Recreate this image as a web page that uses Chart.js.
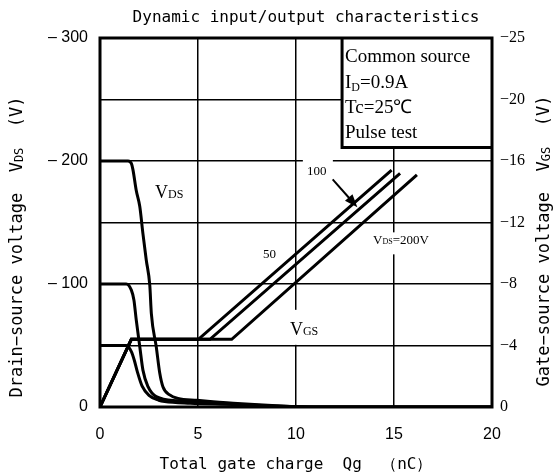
<!DOCTYPE html>
<html>
<head>
<meta charset="utf-8">
<script src="https://cdn.jsdelivr.net/npm/chart.js@4.4.1/dist/chart.umd.min.js"></script>
<style>
  body { margin: 0; background: #fff; }
  canvas { display: block; }
</style>
</head>
<body>
<canvas id="graficoQg" width="560" height="476"></canvas>
<script>
// Total gate charge Qg (nC) on x, |VDS| on the left axis, |VGS| on the right axis
const qTicks = [0, 5, 10, 15, 20];
const vdsTickValues = [0, 100, 200, 300];
const vdsTickLabels = ['0', '– 100', '– 200', '– 300'];
const vgsTickValues = [0, 4, 8, 12, 16, 20, 24];
const vgsTickLabels = ['0', '−4', '−8', '−12', '−16', '−20', '−25'];

// VDS curves (V)
const qVds200 = [0, 1.43, 1.6, 1.68, 1.85, 2.03, 2.19, 2.36, 2.54, 2.62, 2.87, 3.05, 3.21, 3.56, 3.98, 4.95, 6.8, 9.0, 11, 20];
const vds200 = [200, 200, 198, 193, 176, 163, 141, 119.5, 99, 76, 49, 27.4, 16.5, 9.8, 7, 5.5, 3, 1, 0, 0];
const qVds100 = [0, 1.34, 1.6, 1.73, 1.85, 2.03, 2.19, 2.45, 2.87, 3.98, 4.95, 6.8, 9.0, 11, 20];
const vds100 = [100, 100, 95, 87, 70.7, 49, 30, 16.5, 8.4, 5.1, 4.5, 2.5, 0.8, 0, 0];
const qVds50 = [0, 1.35, 1.6, 1.75, 1.9, 2.15, 2.5, 3.0, 3.3, 4.6, 6.8, 9.0, 11, 20];
const vds50 = [50, 50, 45, 38, 29, 17, 9.5, 5.5, 4.4, 3, 2, 0.5, 0, 0];

// VGS curves (V), one per VDS
const qVgs50 = [0, 1.6, 5.02, 14.88];
const vgs50 = [0, 4.4, 4.4, 15.4];
const qVgs100 = [0, 1.6, 5.61, 15.31];
const vgs100 = [0, 4.4, 4.4, 15.2];
const qVgs200 = [0, 1.6, 6.72, 16.17];
const vgs200 = [0, 4.4, 4.4, 15.1];

const serif = '"Liberation Serif", "Times New Roman", serif';
const gothic = '"DejaVu Sans Mono", monospace';
const sans = '"Liberation Sans", Arial, sans-serif';

const toPoints = (qs, vs) => qs.map((q, i) => ({ x: q, y: vs[i] }));

function curve(qs, vs, axis, smooth) {
    return {
        data: toPoints(qs, vs),
        yAxisID: axis,
        showLine: true,
        borderColor: '#000',
        borderWidth: 3,
        pointRadius: 0,
        fill: false,
        tension: 0,
        cubicInterpolationMode: smooth ? 'monotone' : 'default'
    };
}

// text with smaller subscript runs: [text, font, dy]
function runsWidth(ctx, runs) {
    let w = 0;
    for (const [t, f] of runs) { ctx.font = f; w += ctx.measureText(t).width; }
    return w;
}
function drawRuns(ctx, runs, x, y) {
    let cx = x;
    for (const [t, f, dy] of runs) {
        ctx.font = f;
        ctx.fillText(t, cx, y + (dy || 0));
        cx += ctx.measureText(t).width;
    }
}

const extras = {
    id: 'extras',
    beforeDatasetsDraw(chart) {
        const { ctx, chartArea: a, scales: { x, y } } = chart;
        ctx.save();
        ctx.fillStyle = '#fff';
        // gaps in the grid behind the labels
        ctx.fillRect(x.getPixelForValue(10.35), y.getPixelForValue(203), 30, 22);
        ctx.fillRect(x.getPixelForValue(13.78), y.getPixelForValue(142), 60, 22);
        ctx.fillRect(x.getPixelForValue(9.49), y.getPixelForValue(79), 38, 35);
        // conditions box
        const bx = x.getPixelForValue(12.35), by = y.getPixelForValue(211);
        ctx.fillRect(bx, a.top, a.right - bx, by - a.top);
        ctx.strokeStyle = '#000';
        ctx.lineWidth = 3;
        ctx.beginPath();
        ctx.moveTo(bx, a.top);
        ctx.lineTo(bx, by);
        ctx.lineTo(a.right, by);
        ctx.stroke();
        ctx.fillStyle = '#000';
        ctx.textBaseline = 'alphabetic';
        const tx = x.getPixelForValue(12.5);
        const big = '19px ' + serif, small = '12px ' + serif;
        drawRuns(ctx, [['Common source', big]], tx, a.top + 24);
        drawRuns(ctx, [['I', big], ['D', small, 3], ['=0.9A', big]], tx, a.top + 49.5);
        drawRuns(ctx, [['Tc=25℃', big]], tx, a.top + 75);
        drawRuns(ctx, [['Pulse test', big]], tx, a.top + 99.5);
        ctx.restore();
    },
    afterDatasetsDraw(chart) {
        const { ctx, chartArea: a, scales: { x, y } } = chart;
        ctx.save();
        ctx.fillStyle = '#000';
        ctx.textBaseline = 'alphabetic';
        const f18 = '18px ' + serif, f12 = '12px ' + serif, f13 = '13px ' + serif, f8 = '8px ' + serif;
        drawRuns(ctx, [['V', f18], ['DS', f12]], x.getPixelForValue(2.81), y.getPixelForValue(169.9));
        drawRuns(ctx, [['V', f18], ['GS', f12]], x.getPixelForValue(9.69), y.getPixelForValue(58.5));
        drawRuns(ctx, [['50', f13]], x.getPixelForValue(8.32), y.getPixelForValue(121.1));
        drawRuns(ctx, [['100', f13]], x.getPixelForValue(10.56), y.getPixelForValue(188.6));
        drawRuns(ctx, [['V', f13], ['DS', f8], ['=200V', f13]], x.getPixelForValue(13.93), y.getPixelForValue(132.5));

        // arrow to the 100 V line
        const x0 = x.getPixelForValue(11.87), y0 = y.getPixelForValue(185.1);
        const x1 = x.getPixelForValue(13.13), y1 = y.getPixelForValue(162.4);
        const ang = Math.atan2(y1 - y0, x1 - x0);
        ctx.strokeStyle = '#000';
        ctx.lineWidth = 2;
        ctx.beginPath();
        ctx.moveTo(x0, y0);
        ctx.lineTo(x1 - 8 * Math.cos(ang), y1 - 8 * Math.sin(ang));
        ctx.stroke();
        ctx.beginPath();
        ctx.moveTo(x1, y1);
        ctx.lineTo(x1 - 13 * Math.cos(ang) + 5 * Math.sin(ang), y1 - 13 * Math.sin(ang) - 5 * Math.cos(ang));
        ctx.lineTo(x1 - 13 * Math.cos(ang) - 5 * Math.sin(ang), y1 - 13 * Math.sin(ang) + 5 * Math.cos(ang));
        ctx.closePath();
        ctx.fill();

        // plot frame
        ctx.lineWidth = 3;
        ctx.strokeRect(a.left, a.top, a.right - a.left, a.bottom - a.top);
        ctx.restore();
    },
    afterDraw(chart) {
        const { ctx } = chart;
        ctx.save();
        ctx.fillStyle = '#000';
        ctx.textBaseline = 'middle';
        const g = '16px ' + gothic;
        const gv = '17px ' + gothic, gvs = '12px ' + gothic;

        ctx.font = g;
        ctx.textAlign = 'center';
        ctx.fillText('Dynamic input/output characteristics', 306, 18);
        ctx.textAlign = 'left';

        const xTitle = [['Total gate charge  Qg  （nC）', g]];
        drawRuns(ctx, xTitle, 296 - runsWidth(ctx, xTitle) / 2, 465);

        const left = [['Drain−source voltage  V', gv], ['DS', gvs, 2], ['  (V)', gv]];
        ctx.translate(18, 247);
        ctx.rotate(-Math.PI / 2);
        drawRuns(ctx, left, -runsWidth(ctx, left) / 2, 0);
        ctx.setTransform(1, 0, 0, 1, 0, 0);

        const right = [['Gate−source voltage  V', gv], ['GS', gvs, 2], ['  (V)', gv]];
        ctx.translate(545, 241);
        ctx.rotate(-Math.PI / 2);
        drawRuns(ctx, right, -runsWidth(ctx, right) / 2, 0);
        ctx.restore();
    }
};

const config = {
    type: 'scatter',
    data: {
        datasets: [
            curve(qVds200, vds200, 'y', true),
            curve(qVds100, vds100, 'y', true),
            curve(qVds50, vds50, 'y', true),
            curve(qVgs50, vgs50, 'y2', false),
            curve(qVgs100, vgs100, 'y2', false),
            curve(qVgs200, vgs200, 'y2', false)
        ]
    },
    options: {
        responsive: false,
        devicePixelRatio: 1,
        animation: false,
        layout: { padding: { top: 38, left: 0, right: 0, bottom: 0 } },
        plugins: { legend: { display: false }, tooltip: { enabled: false } },
        scales: {
            x: {
                type: 'linear',
                min: qTicks[0],
                max: qTicks[qTicks.length - 1],
                afterFit(scale) { scale.height = 69; },
                afterBuildTicks(scale) { scale.ticks = qTicks.map(v => ({ value: v })); },
                grid: { color: '#000', lineWidth: 1.5, drawTicks: false },
                border: { display: false },
                ticks: { color: '#000', padding: 18, font: { family: sans, size: 16 } }
            },
            y: {
                type: 'linear',
                min: 0,
                max: 300,
                afterFit(scale) { scale.width = 100; },
                grid: { color: '#000', lineWidth: 1.5, drawTicks: false },
                border: { display: false },
                ticks: {
                    stepSize: 50,
                    color: '#000',
                    padding: 12,
                    font: { family: sans, size: 16 },
                    callback: v => {
                        const i = vdsTickValues.indexOf(v);
                        return i >= 0 ? vdsTickLabels[i] : '';
                    }
                }
            },
            y2: {
                type: 'linear',
                position: 'right',
                min: 0,
                max: 24,
                afterFit(scale) { scale.width = 68; },
                grid: { display: false, drawTicks: false },
                border: { display: false },
                ticks: {
                    stepSize: 4,
                    color: '#000',
                    padding: 8,
                    font: { family: serif, size: 16 },
                    callback: v => {
                        const i = vgsTickValues.indexOf(v);
                        return i >= 0 ? vgsTickLabels[i] : '';
                    }
                }
            }
        }
    },
    plugins: [extras]
};

const ctx = document.getElementById('graficoQg').getContext('2d');
new Chart(ctx, config);
</script>
</body>
</html>
